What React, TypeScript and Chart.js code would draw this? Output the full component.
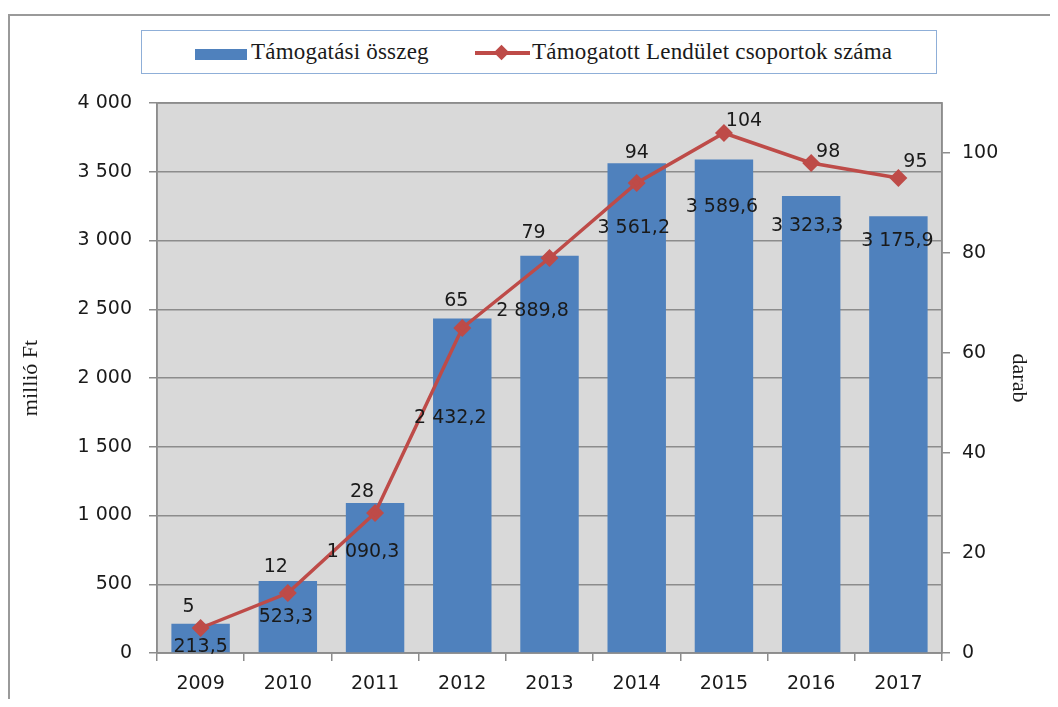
import React, { useEffect, useRef } from "react";
import { Chart, registerables } from "chart.js";

Chart.register(...registerables);

const years = ["2009", "2010", "2011", "2012", "2013", "2014", "2015", "2016", "2017"];
const supportAmount = [213.5, 523.3, 1090.3, 2432.2, 2889.8, 3561.2, 3589.6, 3323.3, 3175.9];
const groupCount = [5, 12, 28, 65, 79, 94, 104, 98, 95];
const leftTicks = [0, 500, 1000, 1500, 2000, 2500, 3000, 3500, 4000];
const rightTicks = [0, 20, 40, 60, 80, 100];

// label placement tweaks (pixels), as in the original figure
const barLabelDx = [0, -2, -12, -12, -17, -3, -2, -4, -1];
const barLabelDy = [23, 36, 49, 99, 55, 65, 48, 30, 25];
const lineLabelDx = [-12, -12, -13, -6, -16, 0, 20, 17, 17];
const lineLabelDy = [-21, -26, -21, -27, -25, -30, -12, -11, -16];

const thousands = (s: string) => s.replace(/\B(?=(\d{3})+(?!\d))/g, " ");
const fmtInt = (v: number) => thousands(String(Math.round(v)));
const fmtDec = (v: number) => {
  const [i, d] = v.toFixed(1).split(".");
  return thousands(i) + "," + d;
};

const GRID = "#8C8C8C";
const SANS = "'DejaVu Sans', sans-serif";
const SERIF = "'Liberation Serif', serif";

const plotBg = {
  id: "plotBg",
  beforeDraw(chart: any) {
    const { ctx, chartArea: a } = chart;
    ctx.save();
    ctx.fillStyle = "#D9D9D9";
    ctx.fillRect(a.left, a.top, a.right - a.left, a.bottom - a.top);
    ctx.restore();
  },
  beforeDatasetsDraw(chart: any) {
    const { ctx, chartArea: a } = chart;
    ctx.save();
    ctx.strokeStyle = GRID;
    ctx.lineWidth = 1.5;
    ctx.strokeRect(a.left, a.top, a.right - a.left, a.bottom - a.top);
    ctx.restore();
  },
};

const valueLabels = {
  id: "valueLabels",
  afterDatasetsDraw(chart: any) {
    const { ctx } = chart;
    ctx.save();
    ctx.font = `19px ${SANS}`;
    ctx.fillStyle = "#1A1A1A";
    ctx.textAlign = "center";
    ctx.textBaseline = "middle";
    const bars = chart.getDatasetMeta(0).data;
    bars.forEach((el: any, i: number) => {
      ctx.fillText(fmtDec(supportAmount[i]), el.x + barLabelDx[i], el.y + barLabelDy[i]);
    });
    const pts = chart.getDatasetMeta(1).data;
    pts.forEach((el: any, i: number) => {
      ctx.fillText(fmtInt(groupCount[i]), el.x + lineLabelDx[i], el.y + lineLabelDy[i]);
    });
    ctx.restore();
  },
};

export default function App() {
  const ref = useRef<HTMLCanvasElement | null>(null);

  useEffect(() => {
    if (!ref.current) return;
    const chart = new Chart(ref.current, {
      type: "bar",
      data: {
        labels: years,
        datasets: [
          {
            type: "bar",
            label: "Támogatási összeg",
            data: supportAmount,
            yAxisID: "y",
            backgroundColor: "#4F81BD",
            barPercentage: 0.67,
            categoryPercentage: 1,
            order: 2,
          } as any,
          {
            type: "line",
            label: "Támogatott Lendület csoportok száma",
            data: groupCount,
            yAxisID: "y1",
            borderColor: "#BE4B48",
            backgroundColor: "#BE4B48",
            borderWidth: 3.5,
            pointStyle: "rectRot",
            pointRadius: 6.5,
            pointBackgroundColor: "#BE4B48",
            pointBorderColor: "#BE4B48",
            tension: 0,
            order: 1,
          } as any,
        ],
      },
      options: {
        animation: false,
        responsive: false,
        maintainAspectRatio: false,
        layout: { padding: { top: 95, left: 0, right: 0, bottom: 0 } },
        plugins: {
          legend: { display: false },
          tooltip: { enabled: false },
        },
        scales: {
          x: {
            grid: {
              offset: true,
              drawOnChartArea: false,
              drawTicks: true,
              tickLength: 8,
              color: GRID,
              lineWidth: 1.5,
            },
            border: { display: true, color: GRID, width: 1.5 },
            ticks: {
              font: { family: SANS, size: 19 },
              color: "#1A1A1A",
              padding: 12,
            },
            afterFit: (s: any) => {
              s.height = 46;
            },
          },
          y: {
            position: "left",
            min: 0,
            max: 4000,
            afterBuildTicks: (s: any) => {
              s.ticks = leftTicks.map((v) => ({ value: v }));
            },
            ticks: {
              font: { family: SANS, size: 19 },
              color: "#1A1A1A",
              padding: 17,
              callback: (v: any) => fmtInt(Number(v)),
            },
            grid: { color: GRID, lineWidth: 1.5, tickLength: 8, drawTicks: true },
            border: { display: true, color: GRID, width: 1.5 },
            title: {
              display: true,
              text: "millió Ft",
              font: { family: SERIF, size: 22 },
              color: "#1A1A1A",
              padding: { top: 10, bottom: 0 },
            },
            afterFit: (s: any) => {
              s.width = 149;
            },
          },
          y1: {
            position: "right",
            min: 0,
            max: 110,
            afterBuildTicks: (s: any) => {
              s.ticks = rightTicks.map((v) => ({ value: v }));
            },
            ticks: {
              font: { family: SANS, size: 19 },
              color: "#1A1A1A",
              padding: 12,
              callback: (v: any) => fmtInt(Number(v)),
            },
            grid: { drawOnChartArea: false, color: GRID, lineWidth: 1.5, tickLength: 8, drawTicks: true },
            border: { display: true, color: GRID, width: 1.5 },
            title: {
              display: true,
              text: "darab",
              font: { family: SERIF, size: 22 },
              color: "#1A1A1A",
              padding: { top: 18, bottom: 0 },
            },
            afterFit: (s: any) => {
              s.width = 108;
            },
          },
        },
      } as any,
      plugins: [plotBg, valueLabels],
    });
    return () => chart.destroy();
  }, []);

  return (
    <div style={{ position: "relative", width: 1042, height: 691, overflow: "hidden" }}>
      <div
        style={{
          position: "absolute",
          left: 0,
          top: 6,
          width: 1042,
          height: 685,
          borderLeft: "2px solid #9A9A9A",
          borderTop: "2px solid #9A9A9A",
          boxSizing: "border-box",
        }}
      />
      <canvas ref={ref} width={1042} height={691} style={{ position: "absolute", left: 0, top: 0 }} />
      <div
        style={{
          position: "absolute",
          left: 133,
          top: 22,
          width: 796,
          height: 44,
          boxSizing: "border-box",
          border: "1.5px solid #8FAFD8",
          background: "#FFFFFF",
          fontFamily: SERIF,
          fontSize: 23,
          letterSpacing: "0.2px",
          color: "#1A1A1A",
        }}
      >
        <div style={{ position: "absolute", left: 53, top: 18, width: 52, height: 11, background: "#4F81BD" }} />
        <div style={{ position: "absolute", left: 109, top: 8, lineHeight: "26px", whiteSpace: "nowrap" }}>
          Támogatási összeg
        </div>
        <div style={{ position: "absolute", left: 333, top: 20, width: 55, height: 4, background: "#BE4B48" }} />
        <div
          style={{
            position: "absolute",
            left: 354,
            top: 16,
            width: 11,
            height: 11,
            background: "#BE4B48",
            transform: "rotate(45deg)",
          }}
        />
        <div style={{ position: "absolute", left: 390, top: 8, lineHeight: "26px", whiteSpace: "nowrap" }}>
          Támogatott Lendület csoportok száma
        </div>
      </div>
    </div>
  );
}
